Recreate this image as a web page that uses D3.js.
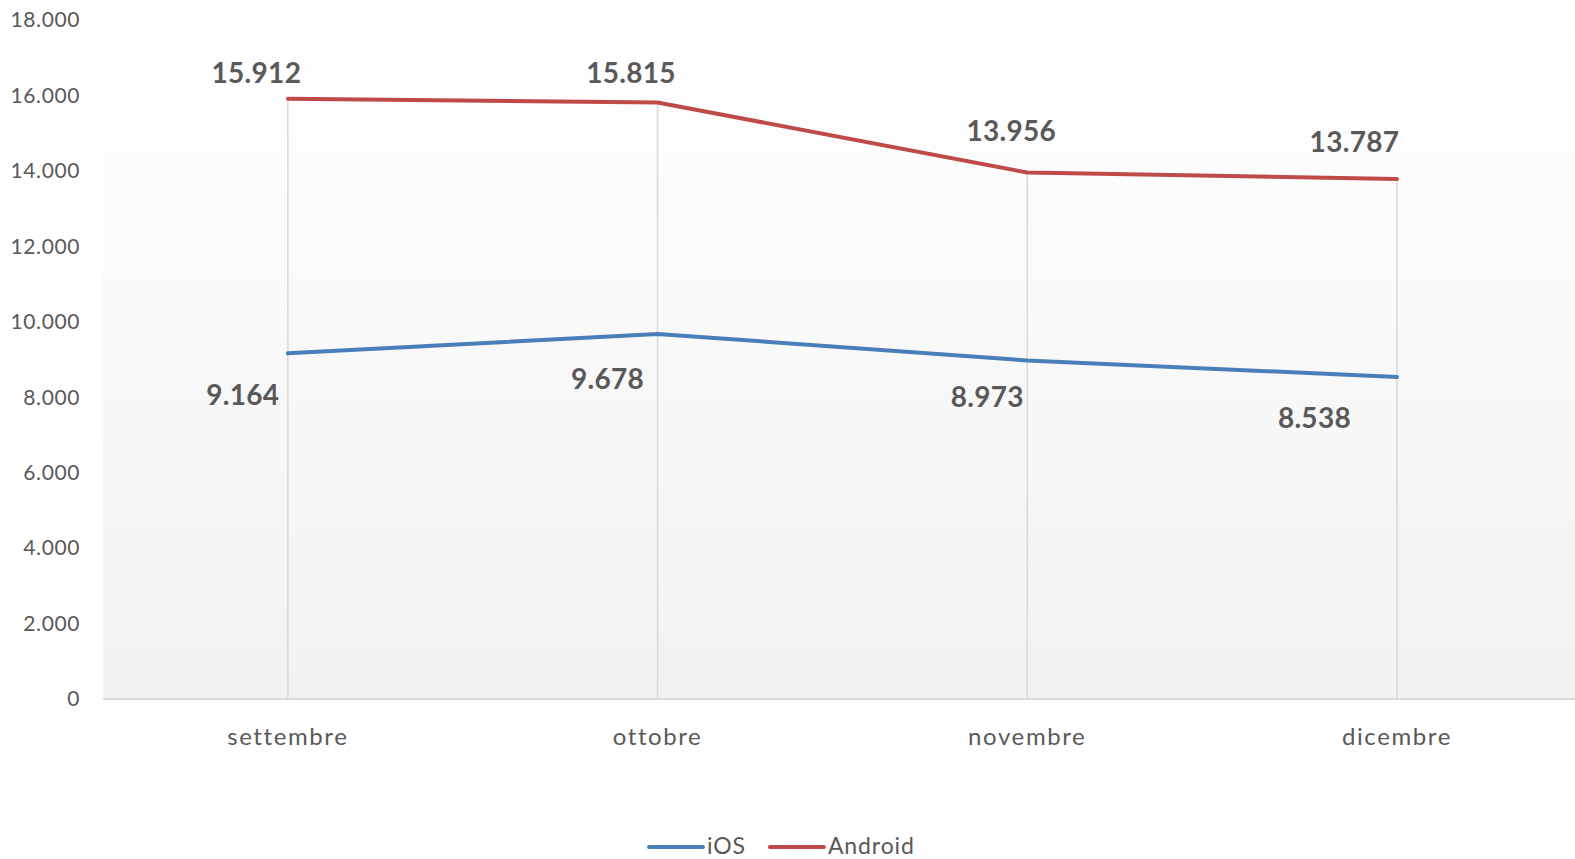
<!DOCTYPE html>
<html>
<head>
<meta charset="utf-8">
<script src="https://cdn.jsdelivr.net/npm/d3@7"></script>
<style>
  html, body { margin: 0; padding: 0; background: #fff; overflow: hidden; }
  svg { display: block; }
  text { font-family: Lato, "Noto Sans", sans-serif; fill: #595959; }
</style>
</head>
<body>
<div id="graphic"></div>
<script>
// chart data
var months = ["settembre", "ottobre", "novembre", "dicembre"];
var iosValues = [9164, 9678, 8973, 8538];
var androidValues = [15912, 15815, 13956, 13787];
var yTicks = [0, 2000, 4000, 6000, 8000, 10000, 12000, 14000, 16000, 18000];

// label offsets (layout only), relative to each point
var androidLabelOffset = [[-31.5, -16], [-26.5, -19], [-16, -32], [-42.5, -27]];
var iosLabelOffset = [[-45, 52], [-50, 55], [-40, 46.5], [-82.5, 51]];

var width = 1575, height = 859;
var margin = { top: 20, bottom: 160, left: 103 };
var step = 369.7;

var svg = d3.select('#graphic').append('svg')
  .attr('width', width)
  .attr('height', height);

var defs = svg.append('defs');
var grad = defs.append('linearGradient')
  .attr('id', 'bg').attr('x1', 0).attr('y1', 0).attr('x2', 0).attr('y2', 1);
grad.append('stop').attr('offset', '0%').attr('stop-color', '#ffffff');
grad.append('stop').attr('offset', '100%').attr('stop-color', '#f2f2f2');

var x = d3.scaleBand()
  .domain(months)
  .range([margin.left, margin.left + step * months.length]);

var y = d3.scaleLinear()
  .domain([0, 18000])
  .range([height - margin.bottom, margin.top]);

var cx = d => x(d) + x.bandwidth() / 2;

// plot background
svg.append('rect')
  .attr('x', margin.left)
  .attr('y', y(18000))
  .attr('width', width - margin.left)
  .attr('height', y(0) - y(18000))
  .attr('fill', 'url(#bg)');

// drop lines from the highest series to the axis
svg.selectAll('line.drop')
  .data(months)
  .join('line')
  .attr('class', 'drop')
  .attr('x1', cx).attr('x2', cx)
  .attr('y1', (d, i) => y(Math.max(iosValues[i], androidValues[i])))
  .attr('y2', y(0))
  .attr('stroke', '#d9d9d9')
  .attr('stroke-width', 1.5);

// baseline
svg.append('line')
  .attr('x1', margin.left).attr('x2', width)
  .attr('y1', y(0)).attr('y2', y(0))
  .attr('stroke', '#d9d9d9')
  .attr('stroke-width', 2);

// y axis labels
var fmt = d3.formatLocale({ decimal: ",", thousands: ".", grouping: [3], currency: ["", "€"] }).format(",");
svg.selectAll('text.ytick')
  .data(yTicks)
  .join('text')
  .attr('class', 'ytick')
  .attr('x', 80)
  .attr('y', d => y(d))
  .attr('dy', '0.35em')
  .attr('text-anchor', 'end')
  .style('font-size', '21px')
  .style('letter-spacing', '0.6px')
  .text(d => fmt(d));

// x axis labels
svg.selectAll('text.xtick')
  .data(months)
  .join('text')
  .attr('class', 'xtick')
  .attr('x', cx)
  .attr('y', 745)
  .attr('text-anchor', 'middle')
  .style('font-size', '24px')
  .style('letter-spacing', '1.6px')
  .text(d => d);

var series = [
  { name: "iOS", values: iosValues, colour: "#4a7ebb", offsets: iosLabelOffset },
  { name: "Android", values: androidValues, colour: "#be4b48", offsets: androidLabelOffset }
];

var line = d3.line()
  .x((d, i) => cx(months[i]))
  .y(d => y(d));

series.forEach(function(s) {
  svg.append('path')
    .attr('d', line(s.values))
    .attr('fill', 'none')
    .attr('stroke', s.colour)
    .attr('stroke-width', 4)
    .attr('stroke-linecap', 'round')
    .attr('stroke-linejoin', 'round');

  svg.selectAll('text.lbl-' + s.name)
    .data(s.values)
    .join('text')
    .attr('class', 'lbl-' + s.name)
    .attr('x', (d, i) => cx(months[i]) + s.offsets[i][0])
    .attr('y', (d, i) => y(d) + s.offsets[i][1])
    .attr('text-anchor', 'middle')
    .style('font-size', '28px')
    .style('font-weight', 'bold')
    .style('letter-spacing', '0.3px')
    .text(d => fmt(d));
});

// legend
var legend = svg.append('g').attr('transform', 'translate(649,847)');
var lx = 0;
series.forEach(function(s) {
  var g = legend.append('g').attr('transform', 'translate(' + lx + ',0)');
  g.append('line')
    .attr('x1', 0).attr('x2', 54)
    .attr('y1', 0).attr('y2', 0)
    .attr('stroke', s.colour)
    .attr('stroke-width', 4)
    .attr('stroke-linecap', 'round');
  var t = g.append('text')
    .attr('x', 58)
    .attr('y', -1)
    .attr('dy', '0.35em')
    .style('font-size', '23px')
    .style('letter-spacing', '0.9px')
    .text(s.name);
  lx += 58 + t.node().getComputedTextLength() + 24;
});
</script>
</body>
</html>
